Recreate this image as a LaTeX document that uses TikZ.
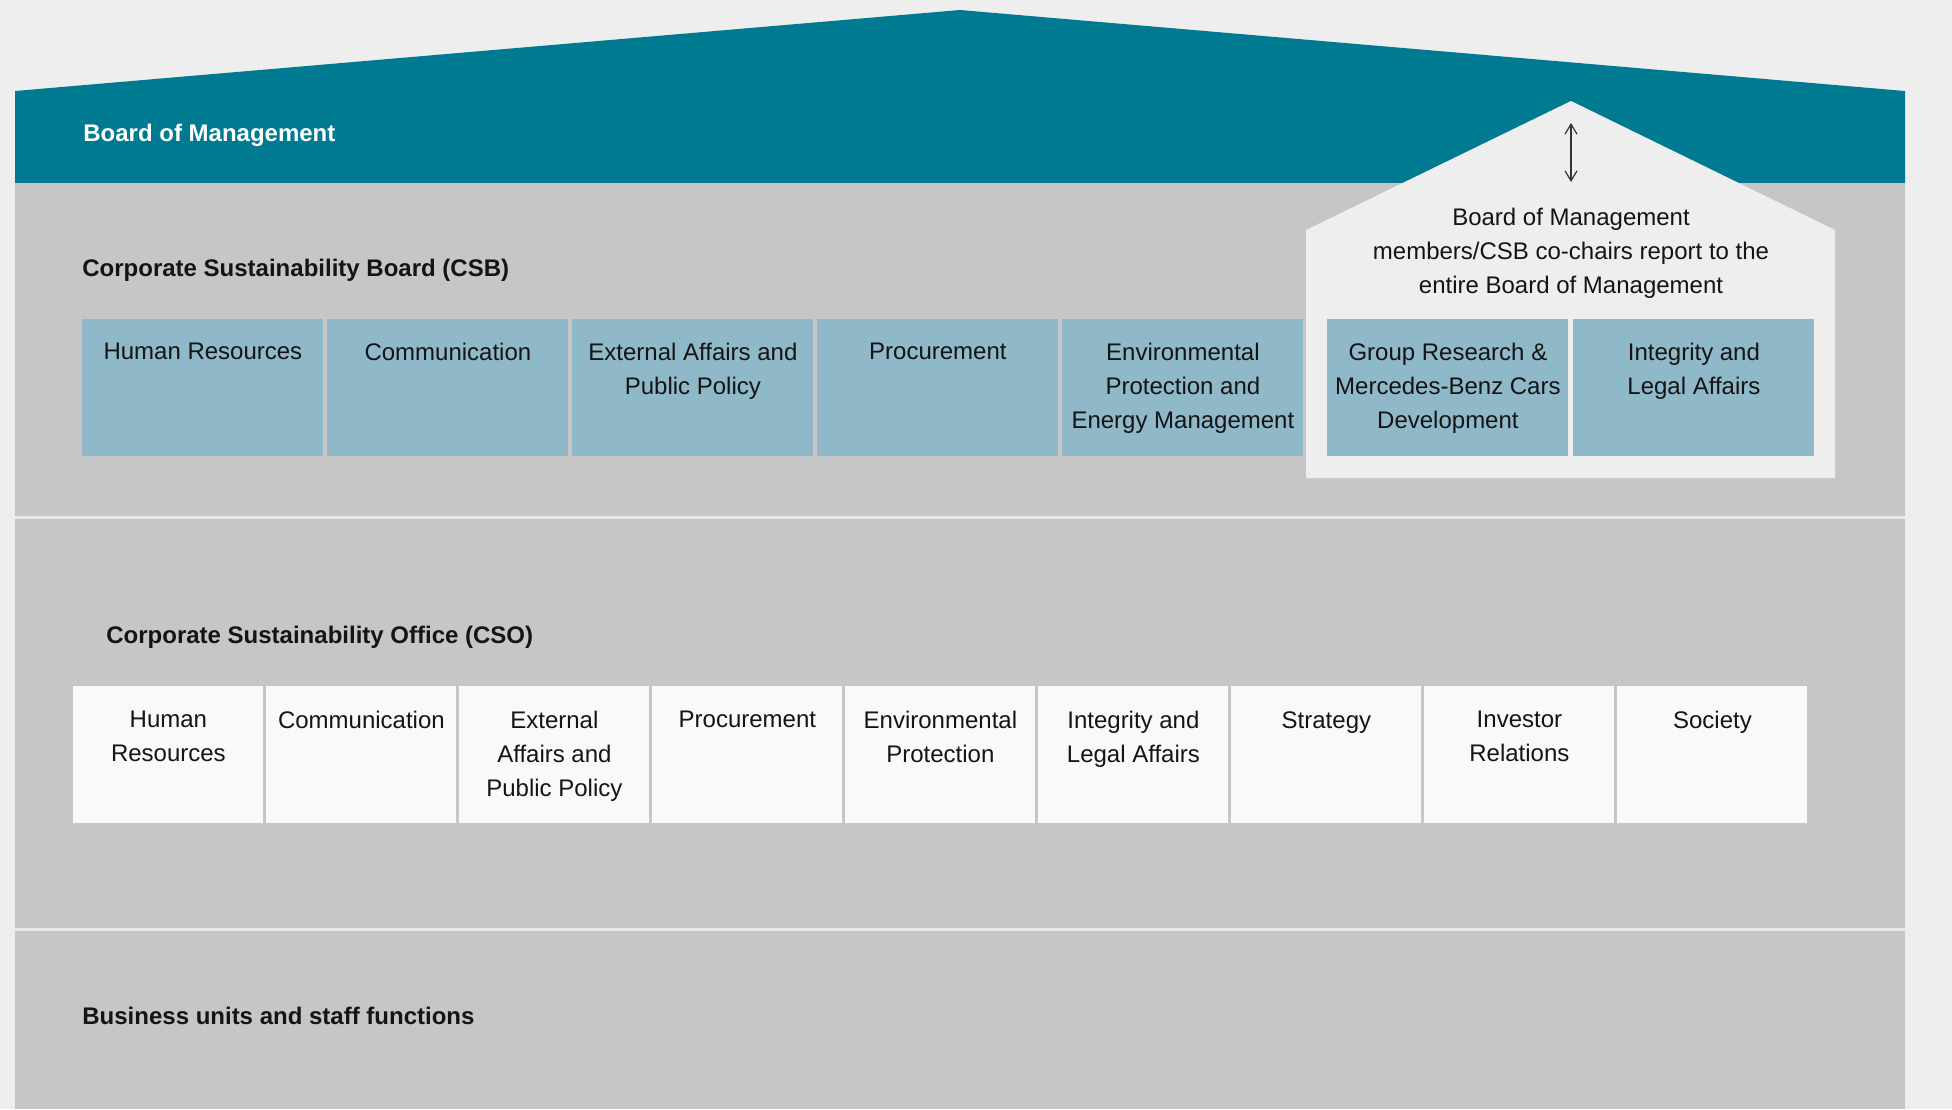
\documentclass[tikz,border=0pt]{standalone}
\usepackage{fontspec}
\setmainfont{Liberation Sans}
\usetikzlibrary{arrows.meta}
\definecolor{bgc}{HTML}{EEEEEE}
\definecolor{bmteal}{HTML}{007A91}
\definecolor{panelc}{HTML}{C6C6C6}
\definecolor{sepc}{HTML}{E8E8E8}
\definecolor{csbblue}{HTML}{8FB8C9}
\definecolor{csowhite}{HTML}{F9F9F9}
\definecolor{txtc}{HTML}{141414}
\definecolor{arrc}{HTML}{333333}
\begin{document}
\begin{tikzpicture}[x=0.5pt,y=-0.5pt,
  boxtxt/.style={font=\fontsize{12pt}{17pt}\selectfont, text=txtc, align=center, inner sep=0pt, anchor=north},
  hdr/.style={font=\fontsize{12pt}{17pt}\selectfont\bfseries, inner sep=0pt, anchor=base west, text=txtc},
  csbbox/.style={fill=csbblue, minimum width=120.5pt, minimum height=68.5pt, inner sep=0pt, anchor=north west},
  csobox/.style={fill=csowhite, minimum width=95pt, minimum height=68.5pt, inner sep=0pt, anchor=north west},
  sepline/.style={draw=sepc, line width=1.5pt},
  updown/.style={draw=arrc, line width=0.6pt, {Straight Barb[length=5pt,width=6pt]}-{Straight Barb[length=5pt,width=6pt]}},
]
\fill[bgc] (0,0) rectangle (1952,1109);
\useasboundingbox (0,0) rectangle (1952,1109);
% roof / Board of Management band
\fill[bmteal] (15,183) -- (15,91) -- (960,10) -- (1905,91) -- (1905,183) -- cycle;
% main panel
\fill[panelc] (15,183) rectangle (1905,1109);
\draw[sepline] (15,517.5) -- (1905,517.5);
\draw[sepline] (15,929.5) -- (1905,929.5);
% small house
\fill[bgc] (1306,478) -- (1306,230) -- (1571,101) -- (1835,230) -- (1835,478) -- cycle;
% arrow
\coordinate (arrtop) at (1571,123);
\coordinate (arrbot) at (1571,182);
\draw[updown] (arrtop) -- (arrbot);
% headers
\node[hdr, text=white] (bom) at (83,141.5) {Board of Management};
\node[hdr] (csb) at (82,276.5) {Corporate Sustainability Board (CSB)};
\node[hdr] (cso) at (106,643) {Corporate Sustainability Office (CSO)};
\node[hdr] (bus) at (82,1024.5) {Business units and staff functions};
% house text
\node[boxtxt] (report) at (1571,208) {Board of Management\\members/CSB co-chairs report to the\\entire Board of Management};
% CSB boxes
\foreach \n/\x/\lbl in {1/82/{Human Resources}, 2/327/{Communication}, 3/572/{External Affairs and\\Public Policy}, 4/817/{Procurement}, 5/1062/{Environmental\\Protection and\\Energy Management}, 6/1327/{Group Research \&\\Mercedes-Benz Cars\\Development}, 7/1573/{Integrity and\\Legal Affairs}}{
  \node[csbbox] (csb\n) at (\x,319) {};
  \node[boxtxt, yshift=-12pt] (csbt\n) at (csb\n.north) {\lbl};
}
% CSO boxes
\foreach \n/\x/\lbl in {1/73/{Human\\Resources}, 2/266/{Communication}, 3/459/{External\\Affairs and\\Public Policy}, 4/652/{Procurement}, 5/845/{Environmental\\Protection}, 6/1038/{Integrity and\\Legal Affairs}, 7/1231/{Strategy}, 8/1424/{Investor\\Relations}, 9/1617/{Society}}{
  \node[csobox] (cso\n) at (\x,686) {};
  \node[boxtxt, yshift=-12.5pt] (csot\n) at (cso\n.north) {\lbl};
}
\end{tikzpicture}
\end{document}
